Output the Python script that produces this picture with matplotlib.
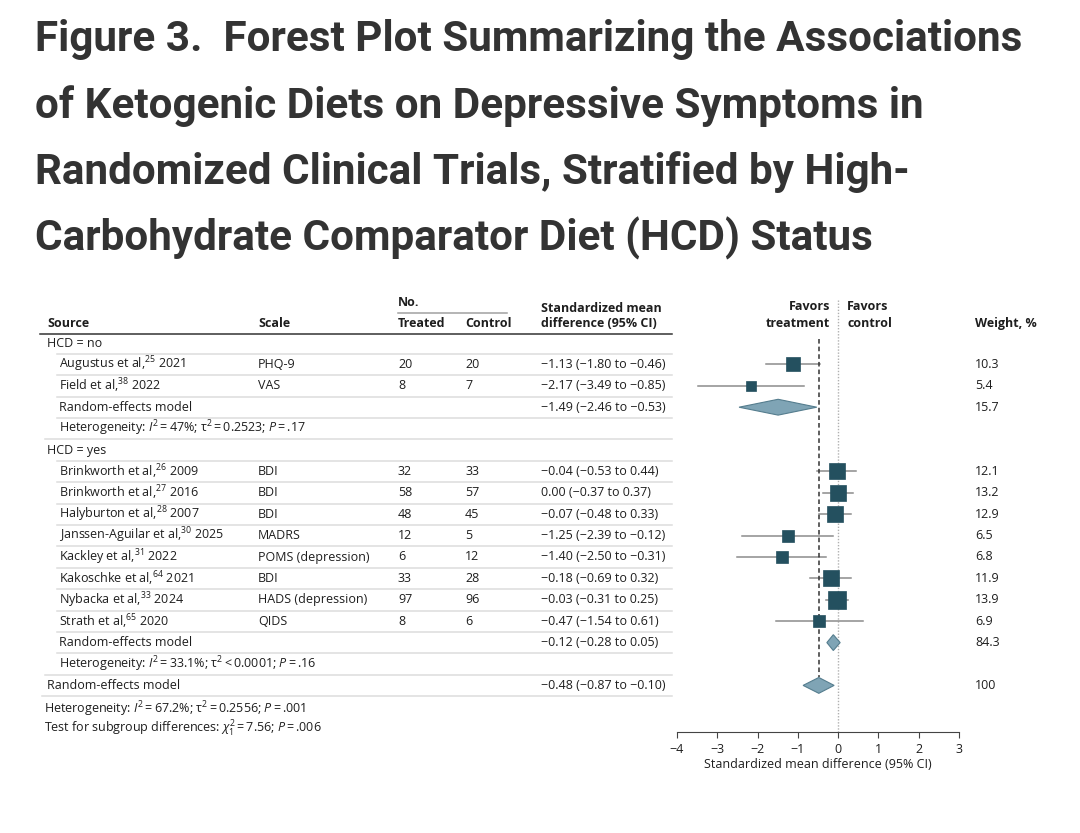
import numpy as np
import matplotlib
matplotlib.use('Agg')
import matplotlib.pyplot as plt
from matplotlib.patches import Polygon

# ---- data ----
group_labels = ['HCD = no', 'HCD = yes']
study_names = ['Augustus et al', 'Field et al', 'Brinkworth et al', 'Brinkworth et al',
               'Halyburton et al', 'Janssen-Aguilar et al', 'Kackley et al',
               'Kakoschke et al', 'Nybacka et al', 'Strath et al']
study_refs = ['25', '38', '26', '27', '28', '30', '31', '64', '33', '65']
study_years = ['2021', '2022', '2009', '2016', '2007', '2025', '2022', '2021', '2024', '2020']
study_scales = ['PHQ-9', 'VAS', 'BDI', 'BDI', 'BDI', 'MADRS', 'POMS (depression)',
                'BDI', 'HADS (depression)', 'QIDS']
study_group = [0, 0, 1, 1, 1, 1, 1, 1, 1, 1]
n_treated = [20, 8, 32, 58, 48, 12, 6, 33, 97, 8]
n_control = [20, 7, 33, 57, 45, 5, 12, 28, 96, 6]
smd = [-1.13, -2.17, -0.04, 0.00, -0.07, -1.25, -1.40, -0.18, -0.03, -0.47]
ci_low = [-1.80, -3.49, -0.53, -0.37, -0.48, -2.39, -2.50, -0.69, -0.31, -1.54]
ci_high = [-0.46, -0.85, 0.44, 0.37, 0.33, -0.12, -0.31, 0.32, 0.25, 0.61]
weights = [10.3, 5.4, 12.1, 13.2, 12.9, 6.5, 6.8, 11.9, 13.9, 6.9]

sub_smd = [-1.49, -0.12]
sub_low = [-2.46, -0.28]
sub_high = [-0.53, 0.05]
sub_weight = [15.7, 84.3]
sub_het = ['Heterogeneity: $I^2$\u2009=\u200947%; τ$^2$\u2009=\u20090.2523; $P$\u2009=\u2009.17',
           'Heterogeneity: $I^2$\u2009=\u200933.1%; τ$^2$\u2009<\u20090.0001; $P$\u2009=\u2009.16']

overall_smd, overall_low, overall_high, overall_weight = -0.48, -0.87, -0.10, 100
overall_het = 'Heterogeneity: $I^2$\u2009=\u200967.2%; τ$^2$\u2009=\u20090.2556; $P$\u2009=\u2009.001'
subgroup_test = 'Test for subgroup differences: $\\chi^2_1$\u2009=\u20097.56; $P$\u2009=\u2009.006'

x_ticks = [-4, -3, -2, -1, 0, 1, 2, 3]

# ---- style ----
body_font = 'Open Sans'
plt.rcParams['font.family'] = [body_font, 'DejaVu Sans']
plt.rcParams['mathtext.fontset'] = 'custom'
plt.rcParams['mathtext.rm'] = body_font
plt.rcParams['mathtext.it'] = body_font + ':italic'
plt.rcParams['mathtext.bf'] = body_font + ':bold'

txt_col = '#1e1e1e'
sq_col = '#24505f'
dia_fill = '#7fa4b5'
dia_edge = '#557d8e'
ci_col = '#8c8c8c'
fs = 9.0

W, H = 1080, 833
fig = plt.figure(figsize=(W / 100, H / 100), dpi=100)
bg = fig.add_axes([0, 0, 1, 1])
bg.set_xlim(0, W)
bg.set_ylim(H, 0)
bg.axis('off')

# title
title_lines = ['Figure 3.  Forest Plot Summarizing the Associations',
               'of Ketogenic Diets on Depressive Symptoms in',
               'Randomized Clinical Trials, Stratified by High-',
               'Carbohydrate Comparator Diet (HCD) Status']
for i, line in enumerate(title_lines):
    bg.text(35, 51 + i * 66.5, line, fontsize=30.4, fontweight='bold',
            family=['Roboto', 'DejaVu Sans'], color='#333333', va='baseline')

# row geometry
row0, row_h = 343, 21.4
def row_y(r):
    return row0 + row_h * r

x_src, x_ind = 47, 59
x_scale, x_trt, x_ctl, x_ci, x_wt = 258, 398, 465, 541, 975

def fmt(v):
    s = f'{v:.2f}'
    return s.replace('-', '\u2212')

def ci_text(e, lo, hi):
    return f'{fmt(e)} ({fmt(lo)} to {fmt(hi)})'

# header
hk = dict(fontsize=fs, fontweight='bold', color=txt_col, va='center')
bg.text(x_src, 323, 'Source', **hk)
bg.text(x_scale, 323, 'Scale', **hk)
bg.text(x_trt, 302, 'No.', **hk)
bg.text(x_trt, 323, 'Treated', **hk)
bg.text(x_ctl, 323, 'Control', **hk)
bg.text(x_ci, 308, 'Standardized mean', **hk)
bg.text(x_ci, 323, 'difference (95% CI)', **hk)
bg.text(830, 307, 'Favors', ha='right', **hk)
bg.text(830, 323, 'treatment', ha='right', **hk)
bg.text(847, 307, 'Favors', ha='left', **hk)
bg.text(847, 323, 'control', ha='left', **hk)
bg.text(x_wt, 323, 'Weight, %', **hk)
bg.plot([x_trt, 507], [313, 313], color='#a0a0a0', lw=1.1)
bg.plot([40, 672], [333.5, 333.5], color='#333333', lw=1.1)

# forest axes
ax = fig.add_axes([677 / W, (H - 732) / H, (959 - 677) / W, (732 - 300) / H])
ax.set_xlim(-4, 3)
ax.set_ylim((732 - row0) / row_h, (300 - row0) / row_h)
ax.patch.set_alpha(0)
for s in ['top', 'right', 'left']:
    ax.spines[s].set_visible(False)
ax.spines['bottom'].set_color('#444444')
ax.spines['bottom'].set_linewidth(0.8)
ax.set_yticks([])
ax.set_xticks(x_ticks)
ax.set_xticklabels([str(t).replace('-', '\u2212') for t in x_ticks])
ax.tick_params(axis='x', direction='out', length=4, width=0.8, color='#444444',
               labelsize=fs, labelcolor=txt_col, pad=4)
bg.text(818, 764, 'Standardized mean difference (95% CI)', fontsize=fs,
        color=txt_col, ha='center', va='center')

def diamond(e, lo, hi, r, h=0.37):
    ax.add_patch(Polygon([(lo, r), (e, r - h), (hi, r), (e, r + h)], closed=True,
                         facecolor=dia_fill, edgecolor=dia_edge, lw=0.8, zorder=4))

rk = dict(fontsize=fs, color=txt_col, va='center')
row_indent = []
r = 0
for g, glabel in enumerate(group_labels):
    bg.text(x_src, row_y(r), glabel, **rk)
    row_indent.append(x_src)
    r += 1
    for i in [k for k in range(len(study_names)) if study_group[k] == g]:
        y = row_y(r)
        bg.text(x_ind, y, f'{study_names[i]},$^{{{study_refs[i]}}}$ {study_years[i]}', **rk)
        bg.text(x_scale, y, study_scales[i], **rk)
        bg.text(x_trt, y, str(n_treated[i]), **rk)
        bg.text(x_ctl, y, str(n_control[i]), **rk)
        bg.text(x_ci, y, ci_text(smd[i], ci_low[i], ci_high[i]), **rk)
        bg.text(x_wt, y, f'{weights[i]:g}', **rk)
        ax.plot([ci_low[i], ci_high[i]], [r, r], color=ci_col, lw=1.1, zorder=2)
        ax.plot(smd[i], r, marker='s', ms=4.6 * np.sqrt(weights[i]) * 0.72,
                color=sq_col, mec=sq_col, mew=0.5, zorder=5)
        row_indent.append(x_ind)
        r += 1
    y = row_y(r)
    bg.text(x_ind, y, 'Random-effects model', **rk)
    bg.text(x_ci, y, ci_text(sub_smd[g], sub_low[g], sub_high[g]), **rk)
    bg.text(x_wt, y, f'{sub_weight[g]:g}', **rk)
    diamond(sub_smd[g], sub_low[g], sub_high[g], r)
    row_indent.append(x_ind)
    r += 1
    bg.text(x_ind, row_y(r), sub_het[g], **rk)
    row_indent.append(x_ind)
    r += 1

overall_row = r
y = row_y(r)
bg.text(x_src, y, 'Random-effects model', **rk)
bg.text(x_ci, y, ci_text(overall_smd, overall_low, overall_high), **rk)
bg.text(x_wt, y, f'{overall_weight:g}', **rk)
diamond(overall_smd, overall_low, overall_high, r)
row_indent.append(x_src)
r += 1
bg.text(x_src - 3, row_y(r) + 2, overall_het, **rk)
row_indent.append(x_src - 3)
bg.text(x_src - 3, row_y(r) + 22, subgroup_test, **rk)

# row separators (above each row)
for k in range(1, len(row_indent)):
    yy = row_y(k) - row_h / 2
    bg.plot([row_indent[k] - 2, 672], [yy, yy], color='#dcdcdc', lw=1.1, zorder=1)

# reference lines
ax.plot([0, 0], [ax.get_ylim()[1], ax.get_ylim()[0]], color='#b0b0b0', lw=1,
        ls=(0, (1, 1.2)), zorder=1, clip_on=False)
ax.plot([overall_smd, overall_smd], [-0.2, overall_row - 0.37], color='#333333',
        lw=1.1, ls=(0, (3, 2)), zorder=3)

fig.savefig('out.png', dpi=100)
